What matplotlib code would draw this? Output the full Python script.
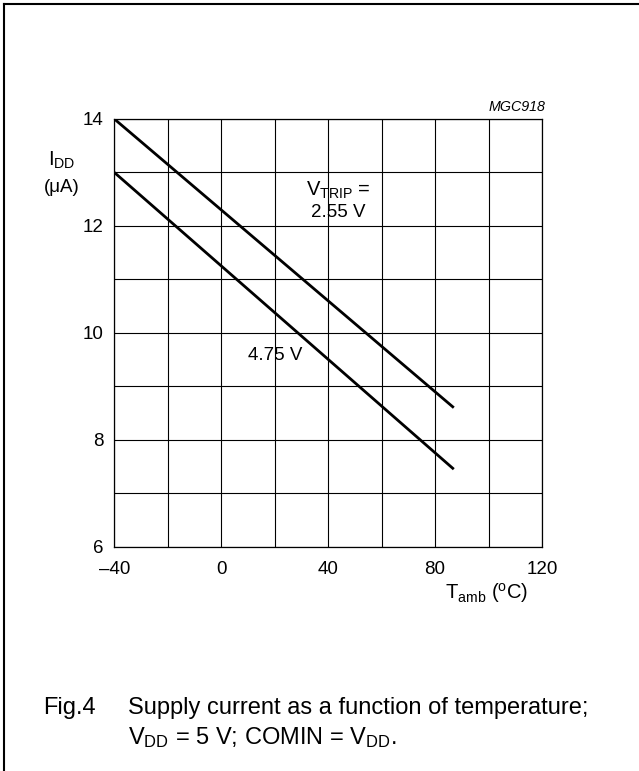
import matplotlib
matplotlib.use("Agg")
import matplotlib.pyplot as plt
from matplotlib.lines import Line2D

# ============== chart data ==============
temps = [-40, 87]            # T_amb (degC), line ends
idd_vtrip_255 = [14.0, 8.6]  # uA, V_TRIP = 2.55 V
idd_vtrip_475 = [13.0, 7.45] # uA, V_TRIP = 4.75 V
x_ticks = [-40, 0, 40, 80, 120]
y_ticks = [6, 8, 10, 12, 14]
x_ticklabels = ["\u201340", "0", "40", "80", "120"]
# ========================================

plt.rcParams['font.family'] = ['Liberation Sans', 'DejaVu Sans']
plt.rcParams['mathtext.fontset'] = 'custom'
plt.rcParams['mathtext.rm'] = 'Liberation Sans'
plt.rcParams['mathtext.it'] = 'Liberation Sans:italic'

fig = plt.figure(figsize=(6.39, 7.71), dpi=100)
ax = fig.add_axes([0.1789, 0.2909, 0.6693, 0.5548])

ax.plot(temps, idd_vtrip_255, color='black', lw=2.0, solid_capstyle='butt')
ax.plot(temps, idd_vtrip_475, color='black', lw=2.0, solid_capstyle='butt')

ax.set_xlim(-40, 120)
ax.set_ylim(6, 14)
ax.set_xticks(range(-40, 121, 20))
ax.set_yticks(range(6, 15, 1))
ax.grid(True, color='black', lw=0.8)
ax.tick_params(length=0, labelsize=13.5)
ax.tick_params(axis='x', pad=10)
ax.tick_params(axis='y', pad=8)
ax.set_xticklabels([x_ticklabels[x_ticks.index(t)] if t in x_ticks else "" for t in range(-40, 121, 20)])
ax.set_yticklabels([str(t) if t in y_ticks else "" for t in range(6, 15)])
for sp in ax.spines.values():
    sp.set_linewidth(0.9)

# annotations
ax.text(43.9, 12.67, r"$\mathregular{V_{TRIP}}$ =", ha='center', va='center', fontsize=14.5)
ax.text(43.9, 12.26, "2.55 V", ha='center', va='center', fontsize=13.5)
ax.text(20.3, 9.58, "4.75 V", ha='center', va='center', fontsize=13.5)
ax.text(1.009, 1.028, "MGC918", transform=ax.transAxes, ha='right', va='center',
        fontsize=10.3, style='italic')
ax.text(-0.122, 0.904, r"$\mathregular{I_{DD}}$", transform=ax.transAxes, ha='center', va='center', fontsize=14.5)
ax.text(-0.122, 0.839, "(\u03bcA)", transform=ax.transAxes, ha='center', va='center', fontsize=13.5)
ax.text(0.871, -0.108, r"$\mathregular{T_{amb}}$ ($\mathregular{^{o}}$C)", transform=ax.transAxes,
        ha='center', va='center', fontsize=14.5)

# caption
fig.text(0.0673, 0.0817, "Fig.4", ha='left', va='center', fontsize=17)
fig.text(0.2003, 0.0817, "Supply current as a function of temperature;", ha='left', va='center', fontsize=17)
fig.text(0.2003, 0.044, r"$\mathregular{V_{DD}}$ = 5 V; COMIN = $\mathregular{V_{DD}}$.", ha='left', va='center', fontsize=17)

# page frame (top and left)
fig.add_artist(Line2D([0.007, 1.0], [0.9948, 0.9948], color='black', lw=1.5, transform=fig.transFigure))
fig.add_artist(Line2D([0.007, 0.007], [0.0, 0.9948], color='black', lw=1.5, transform=fig.transFigure))

fig.savefig("out.png", dpi=100)
